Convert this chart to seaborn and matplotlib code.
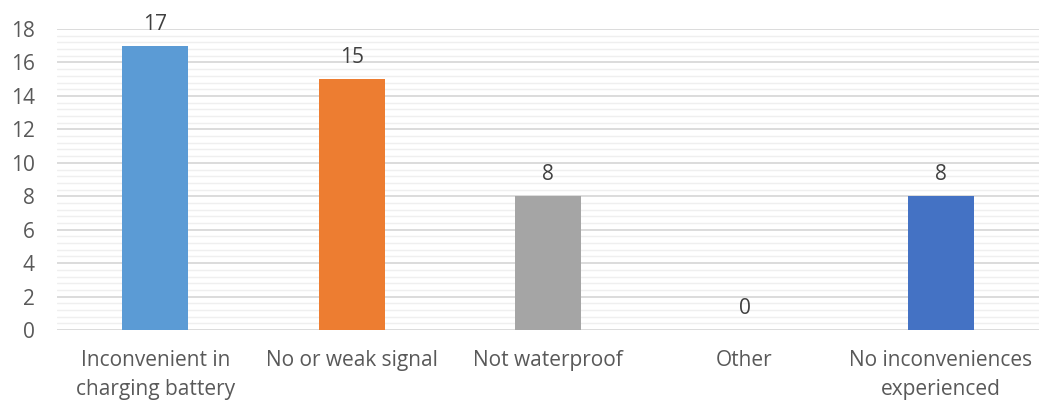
import matplotlib
matplotlib.use("Agg")
import matplotlib.pyplot as plt
import seaborn as sns
import pandas as pd
from matplotlib.ticker import MultipleLocator

categories = ["Inconvenient in\ncharging battery", "No or weak signal", "Not waterproof",
              "Other", "No inconveniences\nexperienced"]
values = [17, 15, 8, 0, 8]
colors = ["#5B9BD5", "#ED7D31", "#A5A5A5", "#FFC000", "#4472C4"]

sns.set_style("white")
plt.rcParams['font.family'] = ['Open Sans', 'DejaVu Sans']

df = pd.DataFrame({"cat": categories, "val": values})
fig = plt.figure(figsize=(10.39, 4.03), dpi=100)
ax = fig.add_axes([0.055, 0.181, 0.945, 0.747])
sns.barplot(data=df, x="cat", y="val", hue="cat", palette=colors, width=0.335,
            legend=False, ax=ax, saturation=1, linewidth=0)
ax.set_ylim(0, 18)
ax.set_xlim(-0.5, 4.5)
ax.yaxis.set_major_locator(MultipleLocator(2))
ax.yaxis.set_minor_locator(MultipleLocator(0.4))
ax.grid(which="major", axis="y", color="#D9D9D9", linewidth=1.3, zorder=0)
ax.grid(which="minor", axis="y", color="#EFEFEF", linewidth=1.0, zorder=0)
ax.set_axisbelow(True)
for s in ax.spines.values():
    s.set_visible(False)
ax.set_xlabel("")
ax.set_ylabel("")
ax.tick_params(axis="both", which="both", length=0, labelsize=15, labelcolor="#595959")
ax.tick_params(axis="x", pad=14)
ax.tick_params(axis="y", pad=16)
for lbl in ax.get_xticklabels():
    lbl.set_linespacing(1.5)
    lbl.set_verticalalignment("top")
for i, v in enumerate(values):
    ax.annotate(str(v), (i, v), xytext=(0, 8), textcoords="offset points",
                ha="center", va="bottom", fontsize=15, color="#404040", clip_on=False)
fig.savefig("out.png", dpi=100)
